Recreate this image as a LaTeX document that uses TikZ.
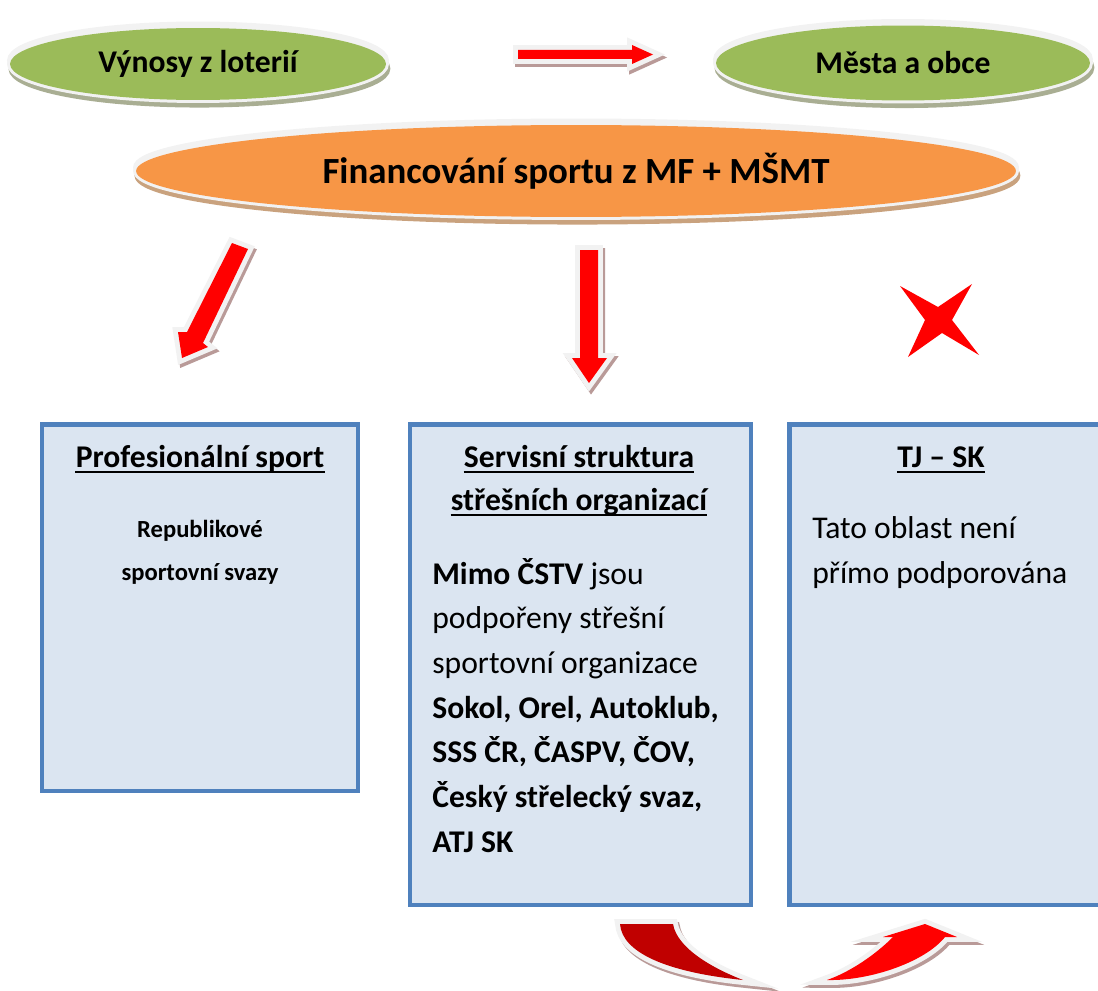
\documentclass[tikz,border=0pt]{standalone}
\usepackage{fontspec}
\setmainfont{Carlito}
\usetikzlibrary{shapes.geometric, positioning}

\definecolor{ovalgreen}{HTML}{9BBB59}
\definecolor{ovalorange}{HTML}{F79646}
\definecolor{boxfill}{HTML}{DBE5F1}
\definecolor{boxline}{HTML}{4F81BD}
\definecolor{rimgray}{HTML}{F2F2F2}
\definecolor{darkred}{HTML}{C00000}
\definecolor{greenshade}{HTML}{A9AE93}
\definecolor{orangeshade}{HTML}{C9A27E}
\definecolor{redshade}{HTML}{B99A98}

\begin{document}
\begin{tikzpicture}[x=0.02cm, y=-0.02cm,
   oval/.style={ellipse, inner sep=0pt,
          preaction={draw=#1, fill=#1, line width=3.4pt, transform canvas={shift={(0.8pt,-2.6pt)}}},
          preaction={draw=rimgray, line width=3.4pt, transform canvas={yshift=2pt}},
          preaction={draw=rimgray, line width=3.4pt}},
   panel/.style={rectangle, draw=boxline, fill=boxfill, line width=2.8pt, inner sep=0pt},
   head/.style={inner sep=0pt, anchor=base, font=\bfseries\fontsize{18}{25.4}\selectfont},
   body/.style={inner sep=0pt, anchor=base west, align=left, font=\fontsize{18}{25.4}\selectfont},
   uline/.style={line width=1.1pt},
   blockarrow/.style={fill=#1, line join=miter,
          preaction={draw=redshade, fill=redshade, line width=5.6pt, transform canvas={shift={(1.2pt,-1.7pt)}}},
          preaction={draw=rimgray, line width=5.6pt}}]
   \useasboundingbox (0,0) rectangle (1098,990);
   \clip (0,0) rectangle (1098,990);

   \node[oval=greenshade,
          fill=ovalgreen,
          minimum width=7.52cm,
          minimum height=1.44cm,
          font=\bfseries\fontsize{18}{22}\selectfont] (lot) at (198,64) {Výnosy z loterií};
   \node[oval=greenshade,
          fill=ovalgreen,
          minimum width=7.48cm,
          minimum height=1.5cm,
          font=\bfseries\fontsize{18}{22}\selectfont] (mesta) at (903,63) {Města a obce};
   \node[oval=orangeshade,
          fill=ovalorange,
          minimum width=17.6cm,
          minimum height=1.84cm,
          font=\bfseries\fontsize{21}{25}\selectfont] (fin) at (576,171) {Financování sportu z MF + MŠMT};

   \fill[blockarrow=red] (518,50) -- (632,50) -- (632,45) -- (653,54.5) -- (632,64) -- (632,59) -- (518,59) -- cycle;
   \fill[blockarrow=red] (232,243) -- (248,249) -- (203,343) -- (208,347) -- (182,358) -- (178,332) -- (187,332) -- cycle;
   \fill[blockarrow=red] (580,250) -- (598,250) -- (598,358) -- (607,358) -- (589,383) -- (572,358) -- (580,358) -- cycle;
   \fill[red] (900,286) -- (938,307) -- (972,284) -- (952,320) -- (979,355) -- (942,333) -- (908,357) -- (925,320) -- cycle;

   \node[panel, minimum width=6.32cm, minimum height=7.34cm] (prof) at (200,607.5) {};
   \node[panel, minimum width=6.82cm, minimum height=9.62cm] (serv) at (580.5,664.5) {};
   \node[panel, minimum width=6.42cm, minimum height=9.62cm] (tj) at (949.5,664.5) {};

   \node[head] (profHd) at (200,467) {Profesionální sport};
   \node[head, align=center, font=\bfseries\fontsize{14}{24.4}\selectfont] (svazy) at (200,580) {Republikové\\sportovní svazy};
   \node[head] (servHd) at (579,467) {Servisní struktura};
   \node[head] (servHdB) at (579,510) {střešních organizací};
   \node[head] (tjHd) at (941,467) {TJ – SK};
   \foreach \n in {profHd, servHd, servHdB, tjHd}
      \draw[uline] ([yshift=-2.6pt]\n.base west) -- ([yshift=-2.6pt]\n.base east);

   \node[body] (mimo) at (432,852) {\textbf{Mimo ČSTV} jsou\\
      podpořeny střešní\\
      sportovní organizace\\
      \textbf{Sokol, Orel, Autoklub,}\\
      \textbf{SSS ČR, ČASPV, ČOV,}\\
      \textbf{Český střelecký svaz,}\\
      \textbf{ATJ SK}};
   \node[body] (tato) at (812,583) {Tato oblast není\\přímo podporována};

   \fill[blockarrow=darkred] (620,924) .. controls (622,952) and (665,972) .. (743,980)
      .. controls (712,968) and (677,948) .. (673,924) -- cycle;
   \fill[blockarrow=red] (827,980) .. controls (870,981) and (925,962) .. (945,937) -- (957,937) -- (925,924)
      -- (883,937) -- (893,937) .. controls (875,955) and (850,972) .. (827,980) -- cycle;
\end{tikzpicture}
\end{document}
